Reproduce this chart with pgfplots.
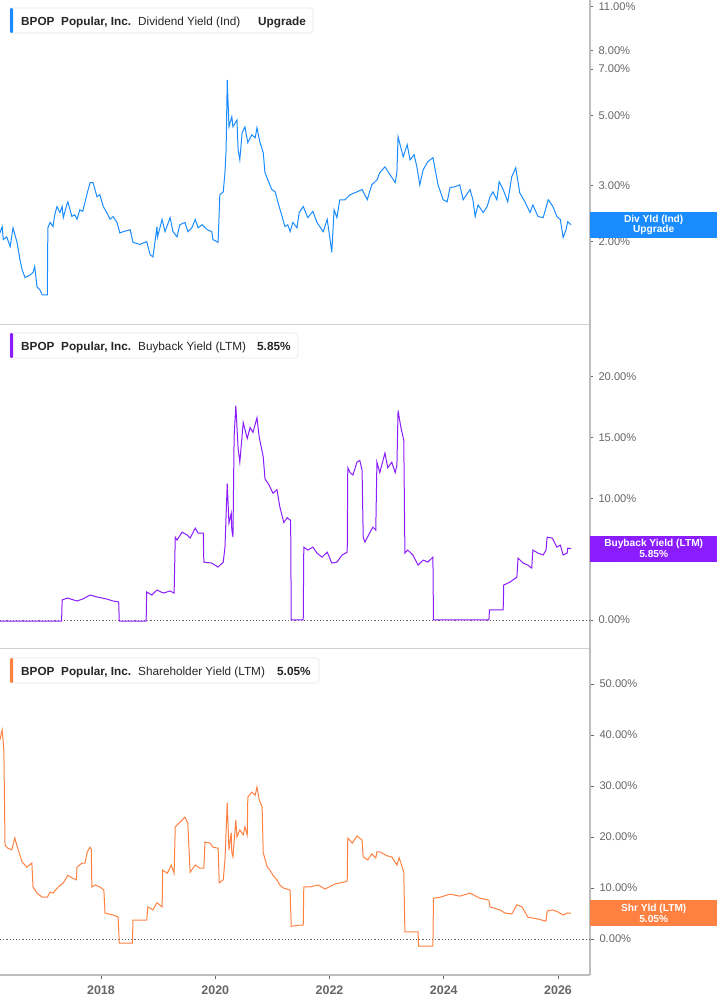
\documentclass[border=0pt]{standalone}
\usepackage{fontspec}
\setmainfont{Liberation Sans}
\usepackage{pgfplots}
\pgfplotsset{compat=1.18}
\definecolor{divblue}{HTML}{1A8CFF}
\definecolor{bbpurple}{HTML}{8A1CFF}
\definecolor{shrorange}{HTML}{FF8142}
\definecolor{axgray}{HTML}{BDBDBD}
\definecolor{sepgray}{HTML}{D0D0D0}
\definecolor{ticklab}{HTML}{666666}
\definecolor{hdrtext}{HTML}{262626}
\definecolor{hdrborder}{HTML}{E6E6E6}
\pgfplotsset{
  panel/.style={
    scale only axis, width=590bp,
    xmin=2016.232, xmax=2026.56,
    axis y line*=right, axis x line*=bottom,
    x axis line style={sepgray, line width=0.8bp, -},
    y axis line style={axgray, line width=1.3bp, -},
    tick align=outside, major tick length=3bp,
    ytick style={ticklab, line width=0.6bp},
    yticklabel style={font=\fontsize{11.2}{13}\selectfont, text=ticklab, anchor=west, xshift=2bp},
    xtick=\empty,
    /pgf/number format/assume math mode=true,
  }
}
\begin{document}
\begin{tikzpicture}
\useasboundingbox (0bp,0bp) rectangle (717bp,1005bp);
% ---------- Panel 1: Dividend yield (log) ----------
\begin{axis}[panel, at={(0bp,681bp)}, anchor=south west, height=324bp,
  ymode=log, ymin=1.10, ymax=11.55,
  ytick={2,3,5,7,8,11},
  yticklabels={2.00\%,3.00\%,5.00\%,7.00\%,8.00\%,11.00\%}]
\addplot[divblue, line width=1bp] coordinates {
(2016.23,2.13) (2016.27,2.23) (2016.29,2.03) (2016.35,2.07) (2016.41,1.93) (2016.46,2.21)
(2016.53,1.99) (2016.58,1.76) (2016.62,1.63) (2016.67,1.54) (2016.76,1.57) (2016.81,1.60)
(2016.84,1.67) (2016.88,1.44) (2016.93,1.41) (2016.97,1.36) (2017.06,1.36) (2017.07,2.21)
(2017.11,2.30) (2017.16,2.23) (2017.19,2.43) (2017.23,2.58) (2017.28,2.47) (2017.32,2.58)
(2017.34,2.38) (2017.41,2.65) (2017.42,2.67) (2017.49,2.40) (2017.54,2.43) (2017.58,2.35)
(2017.63,2.52) (2017.68,2.49) (2017.76,2.85) (2017.81,3.07) (2017.86,3.07) (2017.93,2.77)
(2017.98,2.81) (2018.04,2.58) (2018.10,2.47) (2018.16,2.35) (2018.21,2.40) (2018.28,2.30)
(2018.33,2.13) (2018.39,2.15) (2018.51,2.18) (2018.56,1.99) (2018.68,1.96) (2018.80,2.00)
(2018.86,1.82) (2018.91,1.79) (2018.98,2.23) (2018.99,2.07) (2019.07,2.35) (2019.12,2.15)
(2019.21,2.38) (2019.26,2.15) (2019.33,2.07) (2019.38,2.26) (2019.47,2.30) (2019.52,2.15)
(2019.59,2.21) (2019.65,2.35) (2019.70,2.21) (2019.77,2.26) (2019.86,2.18) (2019.94,2.15)
(2019.96,2.03) (2020.05,1.99) (2020.08,2.81) (2020.14,2.87) (2020.17,3.30) (2020.19,3.90)
(2020.21,6.47) (2020.24,4.60) (2020.29,4.95) (2020.31,4.60) (2020.38,4.84) (2020.40,3.90)
(2020.43,3.62) (2020.47,4.41) (2020.52,4.60) (2020.57,4.10) (2020.64,4.34) (2020.70,4.25)
(2020.73,4.57) (2020.78,4.13) (2020.84,3.81) (2020.87,3.30) (2020.92,3.13) (2020.99,2.92)
(2021.05,2.87) (2021.10,2.65) (2021.17,2.40) (2021.22,2.23) (2021.27,2.26) (2021.31,2.15)
(2021.36,2.30) (2021.43,2.21) (2021.47,2.47) (2021.54,2.58) (2021.62,2.38) (2021.71,2.49)
(2021.78,2.30) (2021.89,2.15) (2021.96,2.35) (2022.01,2.03) (2022.04,1.85) (2022.08,2.52)
(2022.13,2.38) (2022.18,2.71) (2022.27,2.71) (2022.36,2.81) (2022.48,2.87) (2022.57,2.92)
(2022.66,2.71) (2022.74,3.02) (2022.83,3.13) (2022.88,3.30) (2022.97,3.44) (2023.06,3.25)
(2023.15,3.07) (2023.18,3.30) (2023.20,4.28) (2023.29,3.70) (2023.36,4.04) (2023.41,3.62)
(2023.48,3.76) (2023.53,3.44) (2023.58,3.02) (2023.64,3.37) (2023.72,3.57) (2023.81,3.68)
(2023.85,3.37) (2023.90,3.02) (2023.99,2.71) (2024.06,2.67) (2024.11,2.96) (2024.20,2.98)
(2024.28,3.02) (2024.34,2.71) (2024.46,2.92) (2024.51,2.71) (2024.55,2.40) (2024.60,2.61)
(2024.69,2.47) (2024.76,2.58) (2024.81,2.77) (2024.86,2.87) (2024.93,2.71) (2024.97,3.09)
(2025.04,2.92) (2025.12,2.67) (2025.19,3.20) (2025.26,3.42) (2025.33,2.85) (2025.42,2.67)
(2025.51,2.47) (2025.56,2.61) (2025.65,2.40) (2025.74,2.38) (2025.83,2.71) (2025.91,2.58)
(2025.98,2.40) (2026.04,2.35) (2026.09,2.06) (2026.14,2.18) (2026.17,2.31) (2026.23,2.26)
};
\coordinate (v1) at (axis cs:2026.56,2.26);
\end{axis}
% ---------- Panel 2: Buyback yield ----------
\begin{axis}[panel, at={(0bp,357bp)}, anchor=south west, height=324bp,
  ymin=-2.3, ymax=24.3,
  ytick={0,5,10,15,20},
  yticklabels={0.00\%,5.00\%,10.00\%,15.00\%,20.00\%}]
\addplot[ticklab, line width=0.8bp, dash pattern=on 1.2bp off 2bp] coordinates {(2016.232,0) (2026.56,0)};
\addplot[bbpurple, line width=1bp] coordinates {
(2016.23,-0.1) (2017.31,-0.1) (2017.32,1.64) (2017.41,1.80) (2017.58,1.56) (2017.68,1.72)
(2017.81,2.05) (2017.93,1.89) (2018.10,1.72) (2018.21,1.56) (2018.30,1.48) (2018.31,1.48)
(2018.32,-0.1) (2018.79,-0.1) (2018.80,2.30) (2018.89,2.05) (2018.98,2.46) (2019.09,2.21)
(2019.21,2.38) (2019.28,2.21) (2019.30,6.80) (2019.33,6.56) (2019.42,7.21) (2019.51,6.97)
(2019.56,6.72) (2019.65,7.54) (2019.70,7.13) (2019.79,7.13) (2019.80,4.75) (2019.94,4.67)
(2020.05,4.34) (2020.14,4.75) (2020.17,5.98) (2020.21,11.2) (2020.24,7.95) (2020.28,8.77)
(2020.29,7.38) (2020.31,6.80) (2020.33,15.0) (2020.36,17.6) (2020.40,14.1) (2020.43,12.95)
(2020.49,16.2) (2020.56,14.9) (2020.61,15.8) (2020.66,15.4) (2020.73,16.6) (2020.77,15.0)
(2020.84,13.4) (2020.87,11.6) (2020.94,11.1) (2021.01,10.4) (2021.08,10.7) (2021.13,9.3)
(2021.20,8.0) (2021.26,8.4) (2021.31,8.2) (2021.32,8.2) (2021.33,0) (2021.54,0)
(2021.55,5.98) (2021.62,5.74) (2021.71,5.98) (2021.78,5.49) (2021.87,5.16) (2021.96,5.57)
(2022.04,4.67) (2022.13,4.75) (2022.22,5.33) (2022.31,5.57) (2022.32,12.5) (2022.36,12.1)
(2022.41,11.9) (2022.48,12.95) (2022.53,13.1) (2022.57,12.3) (2022.59,6.80) (2022.62,6.39)
(2022.71,7.21) (2022.76,7.62) (2022.81,7.38) (2022.83,12.95) (2022.88,12.1) (2022.97,13.7)
(2023.02,12.5) (2023.09,12.95) (2023.15,12.1) (2023.18,12.7) (2023.20,17.2) (2023.25,15.8)
(2023.30,14.75) (2023.32,5.49) (2023.37,5.74) (2023.46,5.33) (2023.55,4.51) (2023.64,4.92)
(2023.72,4.75) (2023.81,5.16) (2023.82,0) (2024.79,0) (2024.80,0.82) (2025.04,0.82)
(2025.05,2.87) (2025.16,3.11) (2025.28,3.52) (2025.30,5.08) (2025.39,4.67) (2025.47,4.51)
(2025.54,4.26) (2025.56,5.74) (2025.65,5.49) (2025.74,5.33) (2025.79,5.74) (2025.81,6.80)
(2025.90,6.72) (2025.98,5.98) (2026.04,6.15) (2026.09,5.33) (2026.16,5.49) (2026.17,5.90)
(2026.23,5.85)
};
\coordinate (v2) at (axis cs:2026.56,5.85);
\end{axis}
% ---------- Panel 3: Shareholder yield ----------
\begin{axis}[panel, at={(0bp,30bp)}, anchor=south west, height=327bp,
  ymin=-7.06, ymax=57.06,
  ytick={0,10,20,30,40,50},
  yticklabels={0.00\%,10.00\%,20.00\%,30.00\%,40.00\%,50.00\%},
  x axis line style={axgray, line width=1.3bp, -},
  xtick={2018,2020,2022,2024,2026},
  xticklabels={2018,2020,2022,2024,2026},
  major tick length=4bp,
  xtick style={ticklab, line width=0.6bp},
  xticklabel style={font=\bfseries\fontsize{12.5}{14}\selectfont, text=ticklab, yshift=-3bp}]
\addplot[ticklab, line width=0.8bp, dash pattern=on 1.2bp off 2bp] coordinates {(2016.232,0) (2026.56,0)};
\addplot[shrorange, line width=1bp] coordinates {
(2016.23,39.0) (2016.27,41.0) (2016.29,38.4) (2016.30,36.7) (2016.32,18.4) (2016.37,17.8)
(2016.44,17.5) (2016.49,19.8) (2016.55,17.5) (2016.62,15.1) (2016.70,14.1) (2016.79,14.9)
(2016.81,10.2) (2016.88,9.0) (2016.97,8.2) (2017.06,8.2) (2017.11,9.2) (2017.16,9.0)
(2017.25,10.2) (2017.34,11.0) (2017.42,12.5) (2017.49,12.0) (2017.57,11.6) (2017.58,14.1)
(2017.67,14.9) (2017.72,14.9) (2017.76,17.1) (2017.81,18.0) (2017.83,17.5) (2017.84,10.2)
(2017.90,10.6) (2017.98,10.2) (2018.05,9.6) (2018.07,5.1) (2018.21,4.7) (2018.30,4.3)
(2018.32,-0.8) (2018.55,-0.8) (2018.56,3.7) (2018.80,3.7) (2018.82,6.3) (2018.91,5.7)
(2018.98,7.1) (2019.07,6.3) (2019.08,13.5) (2019.16,12.9) (2019.23,14.5) (2019.28,12.9)
(2019.30,22.0) (2019.38,22.9) (2019.47,23.9) (2019.52,22.7) (2019.56,13.1) (2019.65,14.5)
(2019.73,13.9) (2019.80,13.9) (2019.82,19.0) (2019.91,18.8) (2019.96,18.0) (2020.05,17.8)
(2020.07,11.0) (2020.14,11.6) (2020.17,15.5) (2020.21,26.7) (2020.24,17.5) (2020.28,20.8)
(2020.29,16.9) (2020.31,16.1) (2020.36,23.3) (2020.38,20.0) (2020.43,21.4) (2020.49,20.4)
(2020.52,22.0) (2020.56,20.4) (2020.57,27.8) (2020.64,28.8) (2020.70,28.2) (2020.73,29.8)
(2020.77,27.3) (2020.82,25.9) (2020.84,16.9) (2020.91,14.1) (2020.96,13.5) (2021.01,12.5)
(2021.08,11.6) (2021.13,10.6) (2021.19,10.0) (2021.31,9.6) (2021.33,2.5) (2021.47,2.7)
(2021.54,2.7) (2021.55,10.2) (2021.66,10.2) (2021.80,10.6) (2021.92,9.8) (2022.10,10.8)
(2022.27,11.2) (2022.31,11.4) (2022.32,19.8) (2022.40,18.8) (2022.48,20.2) (2022.57,19.4)
(2022.59,16.1) (2022.67,15.5) (2022.74,16.7) (2022.81,15.9) (2022.83,17.1) (2022.88,17.1)
(2023.01,16.3) (2023.09,16.1) (2023.18,14.5) (2023.22,15.9) (2023.29,13.5) (2023.30,13.1)
(2023.32,1.4) (2023.55,1.4) (2023.56,-1.4) (2023.81,-1.4) (2023.82,8.0) (2023.94,8.2)
(2024.11,8.8) (2024.28,8.4) (2024.46,9.0) (2024.63,8.0) (2024.79,7.6) (2024.81,6.3)
(2024.98,5.7) (2025.07,5.1) (2025.19,4.9) (2025.28,6.7) (2025.37,6.3) (2025.47,4.3)
(2025.65,3.9) (2025.79,3.5) (2025.81,5.5) (2025.90,5.7) (2026.00,5.3) (2026.09,4.7)
(2026.16,5.1) (2026.23,5.05)
};
\coordinate (v3) at (axis cs:2026.56,5.05);
\end{axis}
% ---------- value boxes ----------
\tikzset{vbox/.style={anchor=west, inner sep=0pt, minimum width=127bp, minimum height=26bp,
  align=center, text=white, font=\bfseries\fontsize{10.2}{10.8}\selectfont}}
\node[vbox, fill=divblue] at (v1) {Div Yld (Ind)\\Upgrade};
\node[vbox, fill=bbpurple] at (v2) {Buyback Yield (LTM)\\5.85\%};
\node[vbox, fill=shrorange] at (v3) {Shr Yld (LTM)\\5.05\%};
% ---------- headers ----------
\begin{scope}[x=1bp, y=1bp]
\tikzset{hdr/.style={anchor=base west, inner sep=0pt, text=hdrtext, font=\fontsize{11.8}{13}\selectfont}}
% panel 1
\filldraw[fill=white, draw=hdrborder, line width=0.6bp, rounded corners=3bp] (10,972) rectangle (313,997);
\fill[divblue, rounded corners=1.2bp] (10,972) rectangle (13,997);
\node[hdr] at (21,979.7) {\bfseries BPOP};
\node[hdr] at (61,979.7) {\bfseries Popular, Inc.};
\node[hdr] at (138,979.7) {Dividend Yield (Ind)};
\node[hdr] at (258,979.7) {\bfseries Upgrade};
% panel 2
\filldraw[fill=white, draw=hdrborder, line width=0.6bp, rounded corners=3bp] (10,647) rectangle (298,672);
\fill[bbpurple, rounded corners=1.2bp] (10,647) rectangle (13,672);
\node[hdr] at (21,654.3) {\bfseries BPOP};
\node[hdr] at (61,654.3) {\bfseries Popular, Inc.};
\node[hdr] at (138,654.3) {Buyback Yield (LTM)};
\node[hdr] at (257,654.3) {\bfseries 5.85\%};
% panel 3
\filldraw[fill=white, draw=hdrborder, line width=0.6bp, rounded corners=3bp] (10,322) rectangle (319,347);
\fill[shrorange, rounded corners=1.2bp] (10,322) rectangle (13,347);
\node[hdr] at (21,329.3) {\bfseries BPOP};
\node[hdr] at (61,329.3) {\bfseries Popular, Inc.};
\node[hdr] at (138,329.3) {Shareholder Yield (LTM)};
\node[hdr] at (277,329.3) {\bfseries 5.05\%};
\end{scope}
\end{tikzpicture}
\end{document}
